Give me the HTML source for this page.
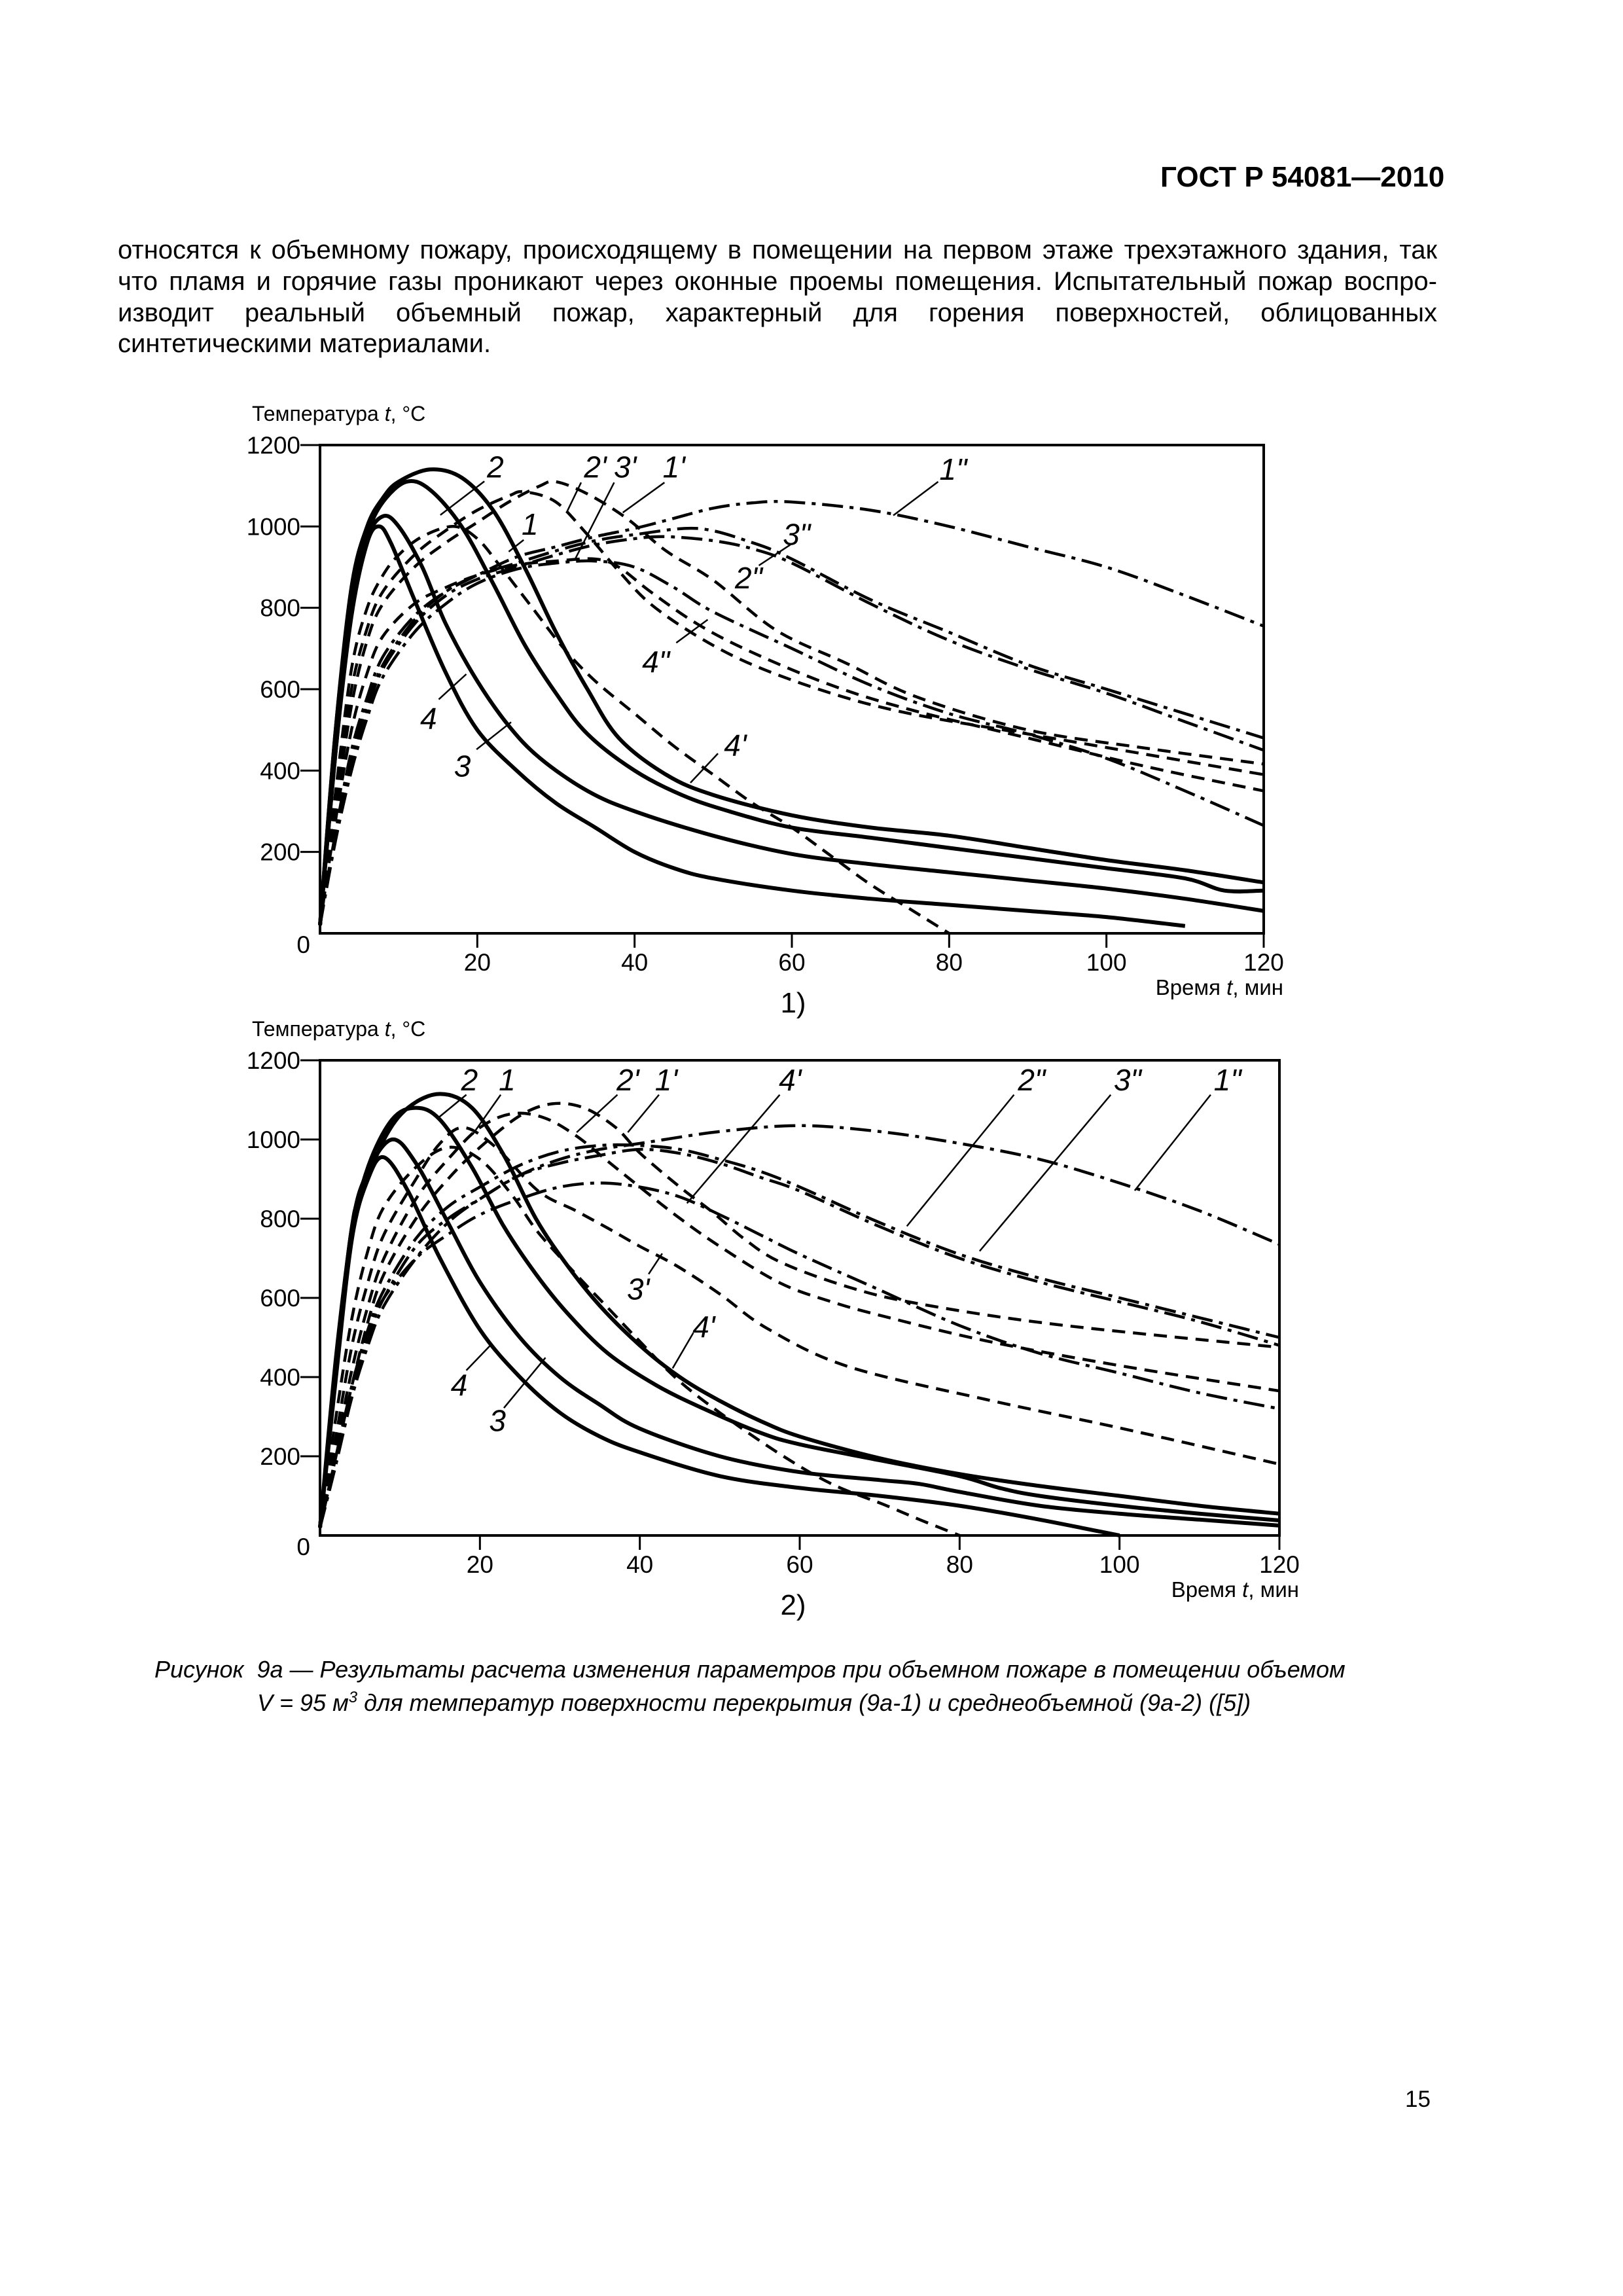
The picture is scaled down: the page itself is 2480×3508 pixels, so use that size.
<!DOCTYPE html>
<html><head><meta charset="utf-8">
<style>
html,body{margin:0;padding:0;background:#fff;}
body{width:2480px;height:3508px;position:relative;overflow:hidden;font-family:"Liberation Sans",sans-serif;color:#000;}
.ln{position:absolute;left:180px;width:2016px;font-size:40px;white-space:nowrap;text-align:justify;text-align-last:justify;line-height:48px;}
.cap{position:absolute;font-style:italic;font-size:36px;white-space:nowrap;}
svg{position:absolute;left:0;top:0;}
</style></head>
<body>
<div style="position:absolute;left:1773px;top:246px;font-weight:bold;font-size:44px;white-space:nowrap;">ГОСТ Р 54081—2010</div>
<div>
<div class="ln" style="top:358px">относятся к объемному пожару, происходящему в помещении на первом этаже трехэтажного здания, так</div>
<div class="ln" style="top:406px">что пламя и горячие газы проникают через оконные проемы помещения. Испытательный пожар воспро-</div>
<div class="ln" style="top:454px">изводит реальный объемный пожар, характерный для горения поверхностей, облицованных</div>
<div class="ln" style="top:501px;text-align-last:left;width:auto">синтетическими материалами.</div>
</div>
<div class="cap" style="left:236px;top:2530px;">Рисунок&nbsp; 9а — Результаты расчета изменения параметров при объемном пожаре в помещении объемом</div>
<div class="cap" style="left:393px;top:2580px;">V = 95 м<sup style="font-size:24px">3</sup> для температур поверхности перекрытия (9а-1) и среднеобъемной (9а-2) ([5])</div>
<div style="position:absolute;left:2147px;top:3188px;font-size:35px;">15</div>

<svg id="svg" width="2480" height="3508" xmlns="http://www.w3.org/2000/svg"></svg>

<script>
// ---------- Chart 1 data (surface temperature) ----------
const c1_solid1_t = [0,2,4,6,8,11,14,18,22,26,30,34,40,46,52,60,70,80,90,100,110,115,120];
const c1_solid1_T = [20,500,830,980,1060,1110,1090,1000,860,710,590,490,400,340,300,260,235,210,185,160,135,105,105];
const c1_solid2_t = [0,2,4,6,8,10,14,18,22,26,30,34,38,44,50,60,70,80,90,100,110,120];
const c1_solid2_T = [20,500,850,1000,1070,1110,1140,1120,1040,900,740,600,480,390,340,290,260,240,210,180,155,125];
const c1_solid3_t = [0,2,4,6,8,10,13,16,20,24,28,34,40,50,60,70,80,90,100,110,120];
const c1_solid3_T = [20,450,800,970,1025,1000,900,760,620,510,430,350,300,240,195,170,150,130,110,85,55];
const c1_solid4_t = [0,2,4,6,7.5,9,12,16,20,25,30,35,40,45,50,60,70,80,90,100,110];
const c1_solid4_T = [20,450,780,960,1000,960,820,640,500,400,320,260,200,160,135,105,85,70,55,40,18];
const c1_dash1_t = [0,2,4,6,8,12,16,20,24,28,30,34,39,44,50,58,67,76,90,105,120];
const c1_dash1_T = [20,300,560,720,810,900,960,1010,1060,1100,1110,1080,1020,940,868,745,663,580,500,455,416];
const c1_dash2_t = [0,2,4,6,8,12,16,20,24,26,30,34,38,42,48,55,65,75,90,105,120];
const c1_dash2_T = [20,330,600,750,840,930,990,1040,1075,1085,1060,980,890,810,730,660,590,540,490,440,390];
const c1_dash3_t = [0,2,4,6,8,12,16,20,25,30,35,38,42,48,55,65,75,90,105,120];
const c1_dash3_T = [20,280,500,640,730,810,850,880,905,915,920,900,840,760,690,610,550,480,410,350];
const c1_dash4_t = [0,2,4,6,8,10,13,17,20,23,27,31,35,40,45,50,55,60,65,70,75,80];
const c1_dash4_T = [20,350,650,800,880,930,975,1000,970,900,800,700,620,540,460,390,320,260,190,120,60,0];
const c1_dd1_t = [0,2,4,6,8,12,16,20,25,30,35,40,45,50,55,60,70,80,90,100,110,120];
const c1_dd1_T = [20,250,450,580,680,780,840,880,925,950,975,995,1020,1045,1058,1060,1040,1000,950,900,830,755];
const c1_dd2_t = [0,2,4,6,8,12,16,20,25,30,35,40,44,50,55,60,70,80,90,100,110,120];
const c1_dd2_T = [20,240,420,550,650,760,830,870,900,930,955,970,975,965,945,910,810,720,650,590,520,450];
const c1_dd3_t = [0,2,4,6,8,12,16,20,25,30,35,40,48,55,60,70,80,90,100,110,120];
const c1_dd3_T = [20,250,430,560,660,770,840,880,910,940,965,980,995,960,920,820,740,660,600,540,480];
const c1_dd4_t = [0,2,4,6,8,12,16,20,25,30,35,40,45,50,60,70,80,90,100,110,120];
const c1_dd4_T = [20,230,400,530,630,740,810,860,895,910,915,900,850,790,700,610,540,490,430,350,265];

// ---------- Chart 2 data (mean volume temperature) ----------
const c2_solid1_t = [0,2,4,6,9,12,15,19,23,27,31,36,42,48,55,60,70,80,85,90,100,110,120];
const c2_solid1_T = [20,430,760,930,1050,1080,1050,930,780,660,560,460,380,320,260,230,190,150,120,100,75,55,38];
const c2_solid2_t = [0,2,4,5,8,11,15,19,23,27,31,35,40,45,50,55,60,70,80,90,100,110,120];
const c2_solid2_T = [20,450,780,850,1000,1080,1115,1080,960,800,680,580,480,400,340,290,250,195,155,125,100,75,55];
const c2_solid3_t = [0,2,4,6,9,12,16,20,25,30,35,40,50,60,70,75,80,90,100,110,120];
const c2_solid3_T = [20,420,780,920,1000,940,790,640,500,400,330,270,200,160,140,130,110,75,55,40,25];
const c2_solid4_t = [0,2,4,6,8,11,15,20,25,30,35,40,50,60,70,80,90,100];
const c2_solid4_T = [20,400,750,900,955,870,700,520,400,310,250,210,150,120,100,75,40,0];
const c2_dash1_t = [0,2,4,6,8,12,16,20,24,28,32,36,40,44.6,50,57.5,64,70.4,83.4,100.6,120];
const c2_dash1_T = [20,220,420,580,700,850,950,1030,1065,1055,1010,945,880,807,730,638,590,554,491,427,365];
const c2_dash2_t = [0,2,4,6,8,12,16,20,25,29,33,37,40,45,49,53,57.5,66,74.7,92,120];
const c2_dash2_T = [20,200,380,540,660,800,900,980,1060,1090,1080,1030,966,880,818,750,691,628,586,533,475];
const c2_dash3_t = [0,2,4,6,8,12,15,18,22,27.3,32,36,40,44.6,50,56,66,83.4,100.6,120];
const c2_dash3_T = [20,250,480,640,760,900,990,1030,980,870,820,776,730,681,610,522,427,343,269,180];
const c2_dash4_t = [0,2,4,6,8,12,16,20,24,27.3,32,36,40,44.6,50,57.5,64,70.4,75,80];
const c2_dash4_T = [20,300,550,720,830,930,980,950,860,765,660,575,490,396,310,206,130,79,40,0];
const c2_dd1_t = [0,2,4,6,8,12,16,20,25,30,35,40,50,60,70,80,90,100,110,120];
const c2_dd1_T = [20,180,350,480,580,700,790,850,910,950,975,990,1020,1035,1020,990,950,890,820,735];
const c2_dd2_t = [0,2,4,6,8,12,16,20,25,30,35,40,45,50,55,60,70,80,90,100,110,120];
const c2_dd2_T = [20,190,360,500,600,730,800,850,910,940,960,975,965,940,905,870,780,700,640,590,540,480];
const c2_dd3_t = [0,2,4,6,8,12,16,20,25,30,35,40,45,50,55,60,70,80,90,100,110,120];
const c2_dd3_T = [20,200,380,520,620,750,830,880,935,970,985,985,975,950,920,880,790,710,650,600,550,500];
const c2_dd4_t = [0,2,4,6,8,12,16,20,25,30,35,40,45,50,55,60,70,80,90,100,110,120];
const c2_dd4_T = [20,200,370,510,600,700,760,810,850,880,890,880,855,810,760,710,620,530,460,410,360,320];

// ---------- Ticks ----------
const yTicks = [200,400,600,800,1000,1200];
const yTickLabels = ["200","400","600","800","1000","1200"];
const xTicks = [20,40,60,80,100,120];
const xTickLabels = ["20","40","60","80","100","120"];

// ---------- Curve labels ----------
const c1_labels = ["2","2'","3'","1'","1","1\"","3\"","2\"","4\"","4","3","4'"];
const c1_labelT = [22.3,35,38.8,45,26.7,80.5,60.6,54.5,42.7,13.8,18.1,52.8];
const c1_labelV = [1120,1120,1120,1120,980,1115,955,848,642,503,385,437];
const c1_leaders = [[20.9,1111,15.3,1028],[33.2,1108,31.4,1036],[37.4,1108,32.5,922],[43.8,1108,38.5,1034],[25.9,967,24,938],[78.6,1110,72.9,1027],[59.8,955,55.8,904],[45.3,714,49.3,771],[15.1,575,18.6,637],[19.9,452,24.3,519],[50.6,442,47.1,370]];
const c2_labels = ["2","1","2'","1'","4'","2\"","3\"","1\"","3'","4'","4","3"];
const c2_labelT = [18.7,23.4,38.5,43.3,58.8,89,101,113.5,39.8,48,17.4,22.2];
const c2_labelV = [1124,1124,1124,1124,1124,1124,1124,1124,596,501,354,264];
const c2_leaders = [[18.3,1113,14.8,1055],[22.6,1113,19.1,1013],[37.2,1113,32.1,1018],[42.4,1113,38.5,1018],[57.5,1113,45.9,839],[86.8,1113,73.4,781],[98.9,1113,82.5,718],[111.4,1113,101.9,871],[41.1,660,42.8,712],[46.7,512,44.1,422],[18.3,417,21.3,480],[23,322,28.2,449]];

const NS = "http://www.w3.org/2000/svg";
const svg = document.getElementById('svg');
function mk(tag, attrs, parent){ const e=document.createElementNS(NS,tag); for(const k in attrs) e.setAttribute(k,attrs[k]); (parent||svg).appendChild(e); return e; }

function smoothPath(pts){
  let d = "M"+pts[0][0].toFixed(1)+","+pts[0][1].toFixed(1);
  for(let i=0;i<pts.length-1;i++){
    const p0=pts[Math.max(0,i-1)], p1=pts[i], p2=pts[i+1], p3=pts[Math.min(pts.length-1,i+2)];
    const c1x=p1[0]+(p2[0]-p0[0])/6, c1y=p1[1]+(p2[1]-p0[1])/6;
    const c2x=p2[0]-(p3[0]-p1[0])/6, c2y=p2[1]-(p3[1]-p1[1])/6;
    d+=" C"+c1x.toFixed(1)+","+c1y.toFixed(1)+" "+c2x.toFixed(1)+","+c2y.toFixed(1)+" "+p2[0].toFixed(1)+","+p2[1].toFixed(1);
  }
  return d;
}

function drawChart(cfg){
  const g = mk('g',{});
  
  
  const xs = t => cfg.x0 + (cfg.x1-cfg.x0)*t/120;
  const ys = v => cfg.yb - (cfg.yb-cfg.yt)*v/1200;
  // frame
  const fr = mk('rect',{x:cfg.x0,y:cfg.yt,width:cfg.x1-cfg.x0,height:cfg.yb-cfg.yt,fill:'none',stroke:'#000','stroke-width':4},g);
  
  
  // y ticks
  yTicks.forEach((v,i)=>{
    const l = mk('line',{x1:cfg.x0-30,x2:cfg.x0,y1:ys(v),y2:ys(v),stroke:'#000','stroke-width':3},g);
    
    
    const t = mk('text',{x:cfg.x0-30,y:ys(v)+13,'text-anchor':'end','font-size':37,'font-family':'Liberation Sans, sans-serif'},g);
    t.textContent = yTickLabels[i];
    
    
  });
  const z = mk('text',{x:cfg.x0-15,y:cfg.yb+30,'text-anchor':'end','font-size':37,'font-family':'Liberation Sans, sans-serif'},g);
  z.textContent = "0";
  
  
  xTicks.forEach((v,i)=>{
    const l = mk('line',{x1:xs(v),x2:xs(v),y1:cfg.yb,y2:cfg.yb+22,stroke:'#000','stroke-width':3},g);
    
    
    const t = mk('text',{x:xs(v),y:cfg.yb+57,'text-anchor':'middle','font-size':37,'font-family':'Liberation Sans, sans-serif'},g);
    t.textContent = xTickLabels[i];
    
    
  });
  const yt = mk('text',{x:385,y:cfg.yt-37,'font-size':32,'font-family':'Liberation Sans, sans-serif'},g);
  yt.innerHTML = 'Температура <tspan font-style="italic">t</tspan>, °C';
  
  
  const xt = mk('text',{x:cfg.x1+30,y:cfg.yb+94,'text-anchor':'end','font-size':33,'font-family':'Liberation Sans, sans-serif'},g);
  xt.innerHTML = 'Время <tspan font-style="italic">t</tspan>, мин';
  
  
  const sub = mk('text',{x:1212,y:cfg.yb+121,'text-anchor':'middle','font-size':44,'font-family':'Liberation Sans, sans-serif'},g);
  sub.textContent = cfg.sub;
  
  
  // series
  cfg.series.forEach(s=>{
    const pts = s.t.map((t,i)=>[xs(t), ys(s.v[i])]);
    const p = mk('path',{d:smoothPath(pts),fill:'none',stroke:'#000','stroke-width':s.w,'stroke-dasharray':s.dash,'stroke-linejoin':'round'},g);
    
    
  });
  // leaders
  cfg.leaders.forEach(L=>{
    const l = mk('line',{x1:xs(L[0]),y1:ys(L[1]),x2:xs(L[2]),y2:ys(L[3]),stroke:'#000','stroke-width':2.5},g);
    
    
  });
  cfg.labels.forEach((txt,i)=>{
    const t = mk('text',{x:xs(cfg.lt[i]),y:ys(cfg.lv[i]),'text-anchor':'middle','font-size':46,'font-style':'italic','font-family':'Liberation Sans, sans-serif'},g);
    t.textContent = txt;
    
    
  });
}
const S='', D='20 12', DD='32 10 6 10';
drawChart({name:'chart-surface-temperature',x0:489,x1:1931,yt:680,yb:1426,sub:'1)',
  series:[
    {name:'curve-1',t:c1_solid1_t,v:c1_solid1_T,w:6,dash:S},
    {name:'curve-2',t:c1_solid2_t,v:c1_solid2_T,w:6,dash:S},
    {name:'curve-3',t:c1_solid3_t,v:c1_solid3_T,w:6,dash:S},
    {name:'curve-4',t:c1_solid4_t,v:c1_solid4_T,w:6,dash:S},
    {name:'curve-1-prime',t:c1_dash1_t,v:c1_dash1_T,w:4.5,dash:D},
    {name:'curve-2-prime',t:c1_dash2_t,v:c1_dash2_T,w:4.5,dash:D},
    {name:'curve-3-prime',t:c1_dash3_t,v:c1_dash3_T,w:4.5,dash:D},
    {name:'curve-4-prime',t:c1_dash4_t,v:c1_dash4_T,w:4.5,dash:D},
    {name:'curve-1-double-prime',t:c1_dd1_t,v:c1_dd1_T,w:4.5,dash:DD},
    {name:'curve-2-double-prime',t:c1_dd2_t,v:c1_dd2_T,w:4.5,dash:DD},
    {name:'curve-3-double-prime',t:c1_dd3_t,v:c1_dd3_T,w:4.5,dash:DD},
    {name:'curve-4-double-prime',t:c1_dd4_t,v:c1_dd4_T,w:4.5,dash:DD}],
  labels:c1_labels, lt:c1_labelT, lv:c1_labelV, leaders:c1_leaders});
drawChart({name:'chart-volume-temperature',x0:489,x1:1955,yt:1620,yb:2346,sub:'2)',
  series:[
    {name:'curve-1',t:c2_solid1_t,v:c2_solid1_T,w:6,dash:S},
    {name:'curve-2',t:c2_solid2_t,v:c2_solid2_T,w:6,dash:S},
    {name:'curve-3',t:c2_solid3_t,v:c2_solid3_T,w:6,dash:S},
    {name:'curve-4',t:c2_solid4_t,v:c2_solid4_T,w:6,dash:S},
    {name:'curve-1-prime',t:c2_dash1_t,v:c2_dash1_T,w:4.5,dash:D},
    {name:'curve-2-prime',t:c2_dash2_t,v:c2_dash2_T,w:4.5,dash:D},
    {name:'curve-3-prime',t:c2_dash3_t,v:c2_dash3_T,w:4.5,dash:D},
    {name:'curve-4-prime',t:c2_dash4_t,v:c2_dash4_T,w:4.5,dash:D},
    {name:'curve-1-double-prime',t:c2_dd1_t,v:c2_dd1_T,w:4.5,dash:DD},
    {name:'curve-2-double-prime',t:c2_dd2_t,v:c2_dd2_T,w:4.5,dash:DD},
    {name:'curve-3-double-prime',t:c2_dd3_t,v:c2_dd3_T,w:4.5,dash:DD},
    {name:'curve-4-double-prime',t:c2_dd4_t,v:c2_dd4_T,w:4.5,dash:DD}],
  labels:c2_labels, lt:c2_labelT, lv:c2_labelV, leaders:c2_leaders});
</script>
</body></html>
